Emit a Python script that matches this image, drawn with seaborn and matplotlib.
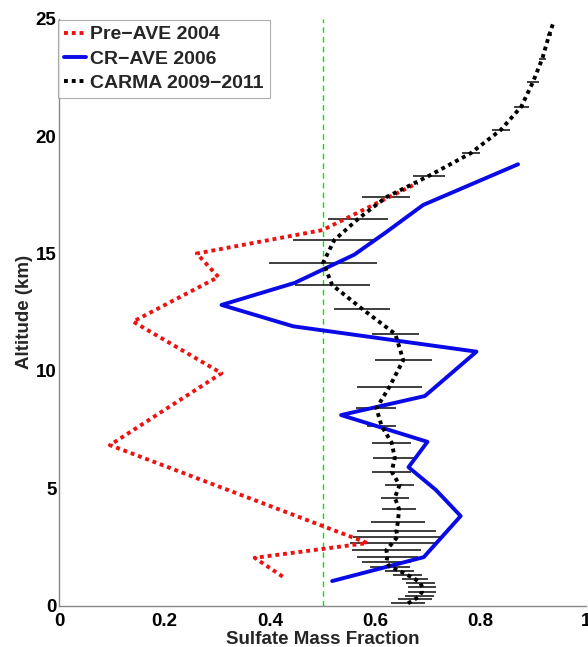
import matplotlib
matplotlib.use("Agg")
import matplotlib.pyplot as plt
import seaborn as sns
import pandas as pd

# ---- data ----
preave_x = [0.424, 0.371, 0.585, 0.096, 0.308, 0.140, 0.302, 0.261, 0.500, 0.680]
preave_alt = [1.24, 2.04, 2.67, 6.84, 9.90, 12.10, 14.00, 15.00, 16.00, 18.00]

crave_x = [0.518, 0.692, 0.762, 0.715, 0.663, 0.699, 0.535, 0.694, 0.748, 0.792,
           0.444, 0.308, 0.447, 0.560, 0.620, 0.691, 0.871]
crave_alt = [1.05, 2.07, 3.82, 4.93, 5.90, 6.98, 8.12, 8.93, 9.97, 10.82,
             11.90, 12.81, 13.75, 14.95, 15.90, 17.07, 18.80]

carma_alt = [0.10, 0.27, 0.43, 0.60, 0.78, 0.95, 1.14, 1.31, 1.48, 1.66, 1.87,
             2.09, 2.37, 2.66, 2.94, 3.19, 3.58, 4.12, 4.60, 5.14, 5.71, 6.30,
             6.94, 7.65, 8.41, 9.33, 10.46, 11.57, 12.64, 13.66, 14.61, 15.57,
             16.47, 17.39, 18.31, 19.27, 20.26, 21.25, 22.29, 23.30, 24.30, 24.90]
carma_x = [0.662, 0.675, 0.684, 0.689, 0.689, 0.686, 0.675, 0.661, 0.646, 0.627,
           0.621, 0.623, 0.621, 0.632, 0.642, 0.640, 0.643, 0.645, 0.637, 0.646,
           0.631, 0.637, 0.631, 0.612, 0.602, 0.627, 0.653, 0.638, 0.575, 0.518,
           0.501, 0.522, 0.567, 0.620, 0.702, 0.781, 0.838, 0.877, 0.899, 0.917,
           0.930, 0.939]
carma_err = [0.032, 0.032, 0.028, 0.027, 0.027, 0.027, 0.025, 0.027, 0.028, 0.038,
             0.047, 0.058, 0.066, 0.081, 0.084, 0.075, 0.052, 0.032, 0.027, 0.028,
             0.037, 0.041, 0.037, 0.028, 0.038, 0.061, 0.054, 0.045, 0.053, 0.071,
             0.102, 0.079, 0.057, 0.046, 0.031, 0.017, 0.017, 0.014, 0.011, 0.007,
             0.005, 0.000]

ref_fraction = 0.5
x_ticks = [0, 0.2, 0.4, 0.6, 0.8, 1]
x_tick_labels = ["0", "0.2", "0.4", "0.6", "0.8", "1"]
y_ticks = [0, 5, 10, 15, 20, 25]

df_pre = pd.DataFrame({"x": preave_x, "alt": preave_alt})
df_cr = pd.DataFrame({"x": crave_x, "alt": crave_alt})
df_carma = pd.DataFrame({"x": carma_x, "alt": carma_alt, "err": carma_err})

sns.set_style("white")
plt.rcParams["font.family"] = ["Liberation Sans", "DejaVu Sans"]
plt.rcParams["font.weight"] = "bold"

fig = plt.figure(figsize=(5.88, 6.47), dpi=100)
ax = fig.add_axes([0.1009, 0.0638, 0.8957, 0.9073])

# reference line
ax.axvline(ref_fraction, color="#00e600", lw=1.0, ls=(0, (4, 3)), zorder=1)

# error bars
ax.errorbar(df_carma["x"], df_carma["alt"], xerr=df_carma["err"], fmt="none",
            ecolor="#1e1e1e", elinewidth=1.2, capsize=0, zorder=2)

dot = (0, (1, 1))
sns.lineplot(data=df_pre, x="x", y="alt", sort=False, estimator=None, ax=ax,
             color="#ee1111", lw=2.8, ls=dot, label="Pre\u2212AVE 2004", zorder=3)
sns.lineplot(data=df_cr, x="x", y="alt", sort=False, estimator=None, ax=ax,
             color="#0a0ae6", lw=2.8, label="CR\u2212AVE 2006", zorder=4)
sns.lineplot(data=df_carma, x="x", y="alt", sort=False, estimator=None, ax=ax,
             color="black", lw=2.8, ls=dot, label="CARMA 2009\u22122011", zorder=5)

ax.set_xlim(0, 1)
ax.set_ylim(0, 25)
ax.set_xticks(x_ticks)
ax.set_xticklabels(x_tick_labels)
ax.set_yticks(y_ticks)
for lab in ax.get_xticklabels() + ax.get_yticklabels():
    lab.set_fontweight("bold")
    lab.set_fontsize(13.5)
    lab.set_color("black")
ax.tick_params(axis="x", direction="in", length=4, width=0.8, color="#888888", pad=5.5)
ax.tick_params(axis="y", direction="in", length=4, width=0.8, color="#888888", pad=2)

for s in ["top", "right"]:
    ax.spines[s].set_visible(False)
for s in ["left", "bottom"]:
    ax.spines[s].set_color("#888888")
    ax.spines[s].set_linewidth(1.0)

ax.set_xlabel("Sulfate Mass Fraction", fontsize=13.5, fontweight="bold", labelpad=0.5)
ax.set_ylabel("Altitude (km)", fontsize=13.5, fontweight="bold", labelpad=2)

leg = ax.legend(loc="upper left", bbox_to_anchor=(-0.002, 0.998), fontsize=14,
                handlelength=1.15, handletextpad=0.2, borderpad=0.3,
                labelspacing=0.35, borderaxespad=0.0, fancybox=False,
                frameon=True)
leg.get_frame().set_edgecolor("#999999")
leg.get_frame().set_linewidth(0.8)
for t in leg.get_texts():
    t.set_fontweight("bold")

fig.savefig("out.png", dpi=100)
